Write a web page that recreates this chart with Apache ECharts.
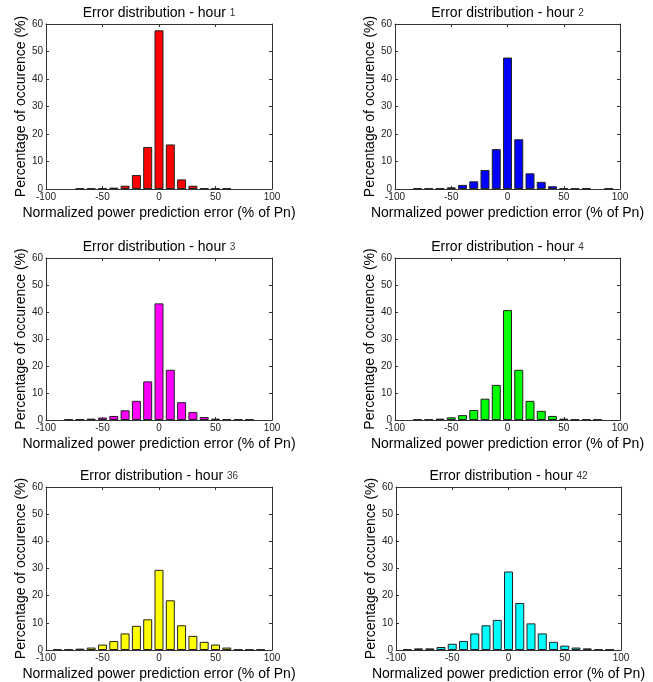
<!DOCTYPE html>
<html>
<head>
<meta charset="utf-8">
<script src="https://cdn.jsdelivr.net/npm/echarts@6/dist/echarts.min.js"></script>
<style>
  html, body { margin: 0; padding: 0; background: #fff; }
  #chart { width: 653px; height: 682px; }
</style>
</head>
<body>
<div id="chart"></div>
<script>
// bin centres (% of Pn)
const binCenters = [-90, -80, -70, -60, -50, -40, -30, -20, -10, 0, 10, 20, 30, 40, 50, 60, 70, 80, 90]

// percentage of occurence per bin
const hour1  = [0, 0, 0.2, 0.2, 0.2, 0.5, 1.2, 5.1, 15.3, 57.7, 16.2, 3.5, 1.2, 0.2, 0.2, 0.2, 0, 0, 0]
const hour2  = [0, 0.2, 0.2, 0.2, 0.6, 1.5, 2.8, 6.9, 14.5, 47.8, 18.1, 5.7, 2.6, 1.0, 0.2, 0.2, 0.2, 0, 0.2]
const hour3  = [0, 0.2, 0.2, 0.5, 0.9, 1.5, 3.6, 7.1, 14.3, 43.2, 18.6, 6.6, 3.0, 1.1, 0.5, 0.2, 0.2, 0.2, 0]
const hour4  = [0, 0.2, 0.2, 0.5, 1.0, 1.8, 3.7, 7.9, 13.0, 40.7, 18.6, 7.1, 3.4, 1.5, 0.5, 0.2, 0.2, 0.2, 0]
const hour36 = [0.2, 0.2, 0.5, 0.9, 2.0, 3.3, 6.1, 8.9, 11.3, 29.5, 18.3, 9.1, 5.2, 3.0, 2.0, 0.9, 0.2, 0.2, 0.2]
const hour42 = [0.2, 0.6, 0.6, 1.1, 2.3, 3.3, 6.1, 9.1, 11.1, 28.9, 17.3, 9.8, 6.1, 3.0, 1.6, 0.9, 0.6, 0.2, 0.2]

const hourLabels = ['1', '2', '3', '4', '36', '42']
const hourData = [hour1, hour2, hour3, hour4, hour36, hour42]
const barColors = ['#ff0000', '#0000ff', '#ff00ff', '#00ff00', '#ffff00', '#00ffff']

const xTicks = { min: -100, max: 100, interval: 50 }
const yTicks = { min: 0, max: 60, interval: 10 }

// plot boxes [left, top, width, height]
const boxes = [
  [46, 24, 226, 165], [395, 24, 225, 165],
  [46, 258, 226, 162], [395, 258, 225, 162],
  [46, 487, 226, 164], [396, 487, 225, 164]
]

const font = 'Liberation Sans, Arial, sans-serif'
const axisColor = '#333'

const grid = [], xAxis = [], yAxis = [], series = [], title = []

boxes.forEach(([l, t, w, h], i) => {
  grid.push({ left: l, top: t, width: w, height: h })

  title.push({
    text: 'Error distribution - hour {n|' + hourLabels[i] + '}',
    left: l + w / 2,
    top: t - 18,
    textAlign: 'center',
    padding: 0,
    textStyle: {
      fontFamily: font, fontSize: 14, fontWeight: 'normal', color: '#000',
      rich: { n: { fontFamily: font, fontSize: 10, color: '#333' } }
    }
  })

  const common = {
    gridIndex: i,
    type: 'value',
    axisLine: { show: true, onZero: false, lineStyle: { color: axisColor, width: 1 } },
    axisTick: { show: true, inside: true, length: 3, lineStyle: { color: axisColor } },
    splitLine: { show: false }
  }

  xAxis.push({
    ...common, position: 'bottom', ...xTicks,
    name: 'Normalized power prediction error (% of Pn)',
    nameLocation: 'middle', nameGap: 17,
    nameTextStyle: { fontFamily: font, fontSize: 14, color: '#000' },
    axisLabel: { fontFamily: font, fontSize: 10, color: '#222', margin: 3 }
  })
  xAxis.push({ ...common, position: 'top', ...xTicks, axisLabel: { show: false } })

  yAxis.push({
    ...common, position: 'left', ...yTicks,
    name: 'Percentage of occurence (%)',
    nameLocation: 'middle', nameGap: 14,
    nameTextStyle: { fontFamily: font, fontSize: 14, color: '#000' },
    axisLabel: { fontFamily: font, fontSize: 10, color: '#222', margin: 3 }
  })
  yAxis.push({ ...common, position: 'right', ...yTicks, axisLabel: { show: false } })

  series.push({
    type: 'bar',
    xAxisIndex: i * 2,
    yAxisIndex: i * 2,
    barWidth: 9,
    silent: true,
    itemStyle: { color: barColors[i], borderColor: '#222', borderWidth: 1 },
    data: binCenters.map((x, k) => [x, hourData[i][k]]).filter(d => d[1] > 0)
  })
})

const chart = echarts.init(document.getElementById('chart'), null, { renderer: 'canvas' })
chart.setOption({ animation: false, title, grid, xAxis, yAxis, series })
</script>
</body>
</html>
